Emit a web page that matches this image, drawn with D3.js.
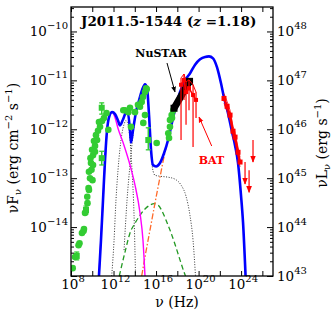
<!DOCTYPE html>
<html>
<head>
<meta charset="utf-8">
<script src="https://cdn.jsdelivr.net/npm/d3@7"></script>
<style>
  html, body { margin: 0; padding: 0; background: #fff; }
  svg { display: block; font-family: "DejaVu Serif", serif; }
</style>
</head>
<body>
<div id="chart"></div>
<script>
// all values are [log10 nu (Hz), log10 nuFnu (erg cm-2 s-1)]
const totalModel = [[10.63,-15.0],[10.82,-14.27],[11.01,-13.45],[11.20,-12.63],[11.39,-12.02],[11.57,-11.76],
  [11.86,-11.65],[12.14,-11.69],[12.42,-11.82],[12.61,-11.92],[12.89,-11.80],[13.17,-11.67],[13.36,-11.69],
  [13.55,-12.02],[13.64,-12.27],[13.83,-12.02],[14.11,-11.65],[14.40,-11.41],[14.68,-11.20],[14.96,-11.08],
  [15.15,-11.16],[15.34,-11.71],[15.53,-12.43],[15.71,-12.73],[16.00,-12.76],[16.37,-12.69],[16.75,-12.49],
  [17.13,-12.22],[17.50,-11.86],[17.88,-11.51],[18.25,-11.24],[18.72,-11.00],[19.19,-10.86],[19.67,-10.68],
  [20.14,-10.57],[20.61,-10.52],[20.98,-10.51],[21.36,-10.55],[21.73,-10.73],[22.11,-11.06],[22.39,-11.35],
  [22.77,-11.67],[23.15,-12.06],[23.43,-12.33],[23.71,-12.69],[23.99,-13.35],[24.18,-13.90],[24.42,-15.0]];
const syncModel = [[10.63,-15.0],[11.01,-13.45],[11.39,-12.02],[11.57,-11.76],[11.86,-11.65],[12.14,-11.76],
  [12.42,-11.98],[12.99,-12.33],[13.55,-12.73],[14.02,-13.14],[14.49,-13.71],[14.77,-14.27],[14.96,-15.0]];
const torusModel = [[11.83,-15.0],[12.05,-14.27],[12.23,-13.45],[12.42,-12.84],[12.61,-12.39],[12.80,-12.08],
  [12.99,-11.90],[13.17,-11.82],[13.36,-11.90],[13.55,-12.22],[13.74,-12.84],[13.93,-13.76],[14.07,-15.0]];
const diskModel = [[12.99,-14.47],[13.27,-13.45],[13.55,-12.73],[13.83,-12.12],[14.11,-11.67],[14.40,-11.41],
  [14.68,-11.22],[14.96,-11.12],[15.15,-11.20],[15.34,-11.71],[15.53,-12.43],[15.67,-12.80],[15.90,-12.94],
  [16.37,-12.96],[17.13,-12.98],[17.78,-13.02],[18.35,-13.14],[18.82,-13.37],[19.19,-13.76],[19.48,-14.27],[19.71,-15.0]];
const sscModel = [[12.54,-15.0],[13.08,-14.51],[13.55,-14.12],[14.02,-13.92],[14.49,-13.76],[14.96,-13.63],
  [15.43,-13.55],[15.84,-13.52],[16.19,-13.55],[16.56,-13.67],[16.94,-13.86],[17.31,-14.06],[17.78,-14.35],
  [18.25,-14.67],[18.63,-14.92],[18.77,-15.0]];
const ecModel = [[14.65,-15.0],[14.96,-14.61],[15.43,-14.06],[15.90,-13.51],[16.37,-12.98],[16.84,-12.47],
  [17.13,-12.22],[17.50,-11.90],[17.88,-11.55]];

// archival points (green)
const archivalPoints = [[8.16,-14.84],[8.38,-14.61],[8.71,-14.37],[8.80,-14.33],[9.03,-14.12],[9.18,-14.08],
  [9.22,-14.04],[9.32,-13.71],[9.55,-13.51],[9.53,-13.38],[9.65,-13.20],[9.79,-13.00],[9.69,-12.87],[9.88,-12.69],
  [9.83,-12.59],[10.07,-12.53],[9.98,-12.42],[10.26,-12.34],[10.16,-12.24],[10.45,-12.22],[10.35,-12.12],
  [10.54,-12.03],[10.73,-11.95],[10.63,-11.85],[10.92,-11.83],[11.10,-11.77],[11.34,-11.67],[11.51,-12.01],
  [10.07,-12.73],[9.93,-12.83],[10.02,-13.04],[9.69,-13.24],[10.26,-12.46],
  [12.92,-11.61],[13.08,-11.61],[13.39,-11.65],[13.55,-11.56],[13.64,-11.95],[14.02,-11.65],[14.30,-11.50],
  [14.49,-11.54],[14.65,-11.44],[14.77,-11.34],[14.96,-11.24],[15.12,-11.18],[14.96,-11.71],[14.80,-11.87],
  [15.06,-11.16],[16.06,-12.28],[17.15,-12.08],[17.31,-11.95],[17.31,-11.81],[17.47,-11.71],[17.62,-11.61],
  [17.50,-11.77],[17.22,-12.18]];
// [log nu, log flux, log low, log high]
const archivalErrors = [[8.54,-14.59,-14.67,-14.51],[9.41,-13.65,-13.73,-13.57],[10.89,-11.56,-11.69,-11.46],
  [10.89,-12.59,-12.73,-12.45],[15.27,-12.22,-12.42,-11.97]];

const nustarPoints = [[17.69,-11.57],[18.07,-11.43],[18.44,-11.29],[18.82,-11.14],[19.15,-11.02]];

// BAT: [log nu, log flux, log low, log high]
const batPoints = [[18.35,-11.09,-12.22,-10.95],[18.63,-10.99,-11.40,-10.87],[18.82,-11.24,-11.91,-11.03],
  [19.10,-11.16,-11.61,-10.99],[19.48,-11.30,-12.36,-11.09],[19.76,-11.40,-11.77,-11.24]];
const latPoints = [[22.39,-11.37],[22.68,-11.53],[22.96,-11.71],[23.24,-12.04],[23.43,-12.16],[23.71,-12.47],[23.90,-12.67]];
const latUpperLimits = [[24.37,-12.67],[24.75,-12.84],[25.12,-12.22]];

const xMajor = [8,10,12,14,16,18,20,22,24,26];
const xLabels = [8,12,16,20,24];
const yLabels = [-14,-13,-12,-11,-10];
const yRightLabels = [43,44,45,46,47,48];

const w = 333, h = 320;
const pl = 71, pr = 273, pt = 7, pb = 276;

const x = d3.scaleLog().domain([1e8, 1e27]).range([pl, pr]);
const y = d3.scaleLog().domain([1e-15, Math.pow(10, -9.5)]).range([pb, pt]);
const yR = d3.scaleLog().domain([1e43, Math.pow(10, 48.5)]).range([pb, pt]);
const px = d => x(Math.pow(10, d));
const py = d => y(Math.pow(10, d));

const svg = d3.select("#chart").append("svg").attr("width", w).attr("height", h);
svg.append("defs").append("clipPath").attr("id", "clip")
  .append("rect").attr("x", pl).attr("y", pt).attr("width", pr - pl).attr("height", pb - pt);
const defs = svg.select("defs");
[["arrBlack", "#000"], ["arrRed", "#f00"]].forEach(function(m) {
  defs.append("marker").attr("id", m[0]).attr("viewBox", "0 0 10 10").attr("refX", 9).attr("refY", 5)
    .attr("markerWidth", 6).attr("markerHeight", 6).attr("orient", "auto")
    .append("path").attr("d", "M0,1 L10,5 L0,9 z").attr("fill", m[1]);
});

const plot = svg.append("g").attr("clip-path", "url(#clip)");
const line = d3.line().x(d => px(d[0])).y(d => py(d[1])).curve(d3.curveMonotoneX);

plot.append("path").datum(torusModel).attr("d", line).attr("fill", "none").attr("stroke", "#333").attr("stroke-width", 1).attr("stroke-dasharray", "1,1.6");
plot.append("path").datum(diskModel).attr("d", line).attr("fill", "none").attr("stroke", "#333").attr("stroke-width", 1).attr("stroke-dasharray", "1,1.6");
plot.append("path").datum(sscModel).attr("d", line).attr("fill", "none").attr("stroke", "#229922").attr("stroke-width", 1.3).attr("stroke-dasharray", "5,3");
plot.append("path").datum(ecModel).attr("d", line).attr("fill", "none").attr("stroke", "#ff6a2a").attr("stroke-width", 1.3).attr("stroke-dasharray", "6,2,1.5,2");
plot.append("path").datum(syncModel).attr("d", line).attr("fill", "none").attr("stroke", "#ff00ff").attr("stroke-width", 1.4);
plot.append("path").datum(totalModel).attr("d", line).attr("fill", "none").attr("stroke", "#0000ff").attr("stroke-width", 2.6);

// green archival data
const green = "#33cc33";
plot.selectAll(".err").data(archivalErrors).enter().append("line")
  .attr("x1", d => px(d[0])).attr("x2", d => px(d[0])).attr("y1", d => py(d[2])).attr("y2", d => py(d[3]))
  .attr("stroke", green).attr("stroke-width", 1.5);
plot.selectAll(".errcap").data(archivalErrors.flatMap(d => [[d[0], d[2]], [d[0], d[3]]])).enter().append("line")
  .attr("x1", d => px(d[0]) - 2.5).attr("x2", d => px(d[0]) + 2.5).attr("y1", d => py(d[1])).attr("y2", d => py(d[1]))
  .attr("stroke", green).attr("stroke-width", 1.3);
plot.selectAll(".sq").data(archivalErrors).enter().append("rect")
  .attr("x", d => px(d[0]) - 3).attr("y", d => py(d[1]) - 3).attr("width", 6).attr("height", 6).attr("fill", green);
plot.selectAll(".pt").data(archivalPoints).enter().append("circle")
  .attr("cx", d => px(d[0])).attr("cy", d => py(d[1])).attr("r", 3.3).attr("fill", green);

// NuSTAR
plot.append("path").datum(nustarPoints).attr("d", d3.line().x(d => px(d[0])).y(d => py(d[1])))
  .attr("fill", "none").attr("stroke", "#000").attr("stroke-width", 7).attr("stroke-linecap", "butt");
plot.selectAll(".nu").data([nustarPoints[0], nustarPoints[nustarPoints.length - 1]]).enter().append("rect")
  .attr("x", d => px(d[0]) - 3.5).attr("y", d => py(d[1]) - 3.5).attr("width", 7).attr("height", 7).attr("fill", "#000");

// BAT
const red = "#ff0000";
plot.selectAll(".bat").data(batPoints).enter().append("line")
  .attr("x1", d => px(d[0])).attr("x2", d => px(d[0])).attr("y1", d => py(d[2])).attr("y2", d => py(d[3]))
  .attr("stroke", red).attr("stroke-width", 1.2);
plot.append("path").datum(batPoints).attr("d", d3.line().x(d => px(d[0])).y(d => py(d[3])))
  .attr("fill", "none").attr("stroke", red).attr("stroke-width", 1);
plot.append("path").datum(batPoints).attr("d", d3.line().x(d => px(d[0])).y(d => py(d[1])))
  .attr("fill", "none").attr("stroke", red).attr("stroke-width", 1.5);
plot.selectAll(".batm").data(batPoints).enter().append("rect")
  .attr("x", d => px(d[0]) - 2).attr("y", d => py(d[1]) - 2).attr("width", 4).attr("height", 4).attr("fill", red);

// Fermi-LAT
plot.append("path").datum(latPoints).attr("d", d3.line().x(d => px(d[0])).y(d => py(d[1] + 0.1)))
  .attr("fill", "none").attr("stroke", red).attr("stroke-width", 0.8);
plot.append("path").datum(latPoints).attr("d", d3.line().x(d => px(d[0])).y(d => py(d[1] - 0.1)))
  .attr("fill", "none").attr("stroke", red).attr("stroke-width", 0.8);
plot.append("path").datum(latPoints).attr("d", d3.line().x(d => px(d[0])).y(d => py(d[1])))
  .attr("fill", "none").attr("stroke", red).attr("stroke-width", 2.2);
plot.selectAll(".lat").data(latPoints).enter().append("rect")
  .attr("x", d => px(d[0]) - 2.5).attr("y", d => py(d[1]) - 2.5).attr("width", 5).attr("height", 5).attr("fill", red);
plot.selectAll(".ul").data(latUpperLimits).enter().append("line")
  .attr("x1", d => px(d[0])).attr("x2", d => px(d[0])).attr("y1", d => py(d[1])).attr("y2", d => py(d[1] - 0.45))
  .attr("stroke", red).attr("stroke-width", 1.2).attr("marker-end", "url(#arrRed)");

// frame and axes
svg.append("rect").attr("x", pl).attr("y", pt).attr("width", pr - pl).attr("height", pb - pt)
  .attr("fill", "none").attr("stroke", "#000").attr("stroke-width", 1.3);

function minors(lo, hi) {
  const out = [];
  for (let k = lo; k <= hi; k++) for (let m = 2; m <= 9; m++) out.push(m * Math.pow(10, k));
  return out;
}
const tickStyle = g => { g.select(".domain").remove(); g.selectAll("line").attr("stroke", "#000").attr("stroke-width", 1); };

svg.append("g").attr("transform", "translate(0," + pb + ")")
  .call(d3.axisBottom(x).tickValues(xMajor.map(v => Math.pow(10, v))).tickSize(-5).tickFormat("")).call(tickStyle);
svg.append("g").attr("transform", "translate(0," + pt + ")")
  .call(d3.axisTop(x).tickValues(xMajor.map(v => Math.pow(10, v))).tickSize(-5).tickFormat("")).call(tickStyle);
svg.append("g").attr("transform", "translate(" + pl + ",0)")
  .call(d3.axisLeft(y).tickValues(d3.range(-15, -9).map(v => Math.pow(10, v))).tickSize(-6).tickFormat("")).call(tickStyle);
svg.append("g").attr("transform", "translate(" + pl + ",0)")
  .call(d3.axisLeft(y).tickValues(minors(-15, -10).filter(v => v < Math.pow(10, -9.5))).tickSize(-3).tickFormat("")).call(tickStyle);
svg.append("g").attr("transform", "translate(" + pr + ",0)")
  .call(d3.axisRight(yR).tickValues(d3.range(43, 49).map(v => Math.pow(10, v))).tickSize(-6).tickFormat("")).call(tickStyle);
svg.append("g").attr("transform", "translate(" + pr + ",0)")
  .call(d3.axisRight(yR).tickValues(minors(43, 48).filter(v => v < Math.pow(10, 48.5))).tickSize(-3).tickFormat("")).call(tickStyle);

function powLabel(sel, exp) {
  sel.append("tspan").text("10");
  sel.append("tspan").attr("dy", -7).attr("font-size", 10).text(String(exp).replace("-", "\u2212"));
}
xLabels.forEach(function(e) {
  svg.append("text").attr("x", px(e) + 2).attr("y", 289).attr("text-anchor", "middle").attr("font-size", 13.5)
    .call(powLabel, e);
});
yLabels.forEach(function(e) {
  svg.append("text").attr("x", 68).attr("y", py(e) + 5).attr("text-anchor", "end").attr("font-size", 13.5)
    .call(powLabel, e);
});
yRightLabels.forEach(function(e) {
  svg.append("text").attr("x", 277).attr("y", yR(Math.pow(10, e)) + 5).attr("font-size", 13.5)
    .call(powLabel, e);
});

// axis titles
const yl = svg.append("text").attr("transform", "translate(18,148) rotate(-90)").attr("text-anchor", "middle").attr("font-size", 14);
yl.append("tspan").text("\u03bdF");
yl.append("tspan").attr("dy", 3).attr("font-size", 10).text("\u03bd");
yl.append("tspan").attr("dy", -3).text(" (erg cm");
yl.append("tspan").attr("dy", -6).attr("font-size", 10).text("\u22122");
yl.append("tspan").attr("dy", 6).text(" s");
yl.append("tspan").attr("dy", -6).attr("font-size", 10).text("\u22121");
yl.append("tspan").attr("dy", 6).text(")");

const yr = svg.append("text").attr("transform", "translate(327,143) rotate(-90)").attr("text-anchor", "middle").attr("font-size", 14);
yr.append("tspan").text("\u03bdL");
yr.append("tspan").attr("dy", 3).attr("font-size", 10).text("\u03bd");
yr.append("tspan").attr("dy", -3).text(" (erg s");
yr.append("tspan").attr("dy", -6).attr("font-size", 10).text("\u22121");
yr.append("tspan").attr("dy", 6).text(")");

svg.append("text").attr("x", 177).attr("y", 307).attr("text-anchor", "middle").attr("font-size", 14).text("\u03bd (Hz)");

// title
const title = svg.append("text").attr("x", 81).attr("y", 25.5).attr("font-size", 13.5).attr("font-weight", "bold");
title.append("tspan").text("J2011.5-1544 (");
title.append("tspan").attr("font-style", "italic").text("z");
title.append("tspan").text(" =1.18)");

// annotations
svg.append("text").attr("x", 161).attr("y", 57).attr("text-anchor", "middle").attr("font-size", 11).attr("font-weight", "bold").text("NuSTAR");
svg.append("line").attr("x1", 167).attr("y1", 63).attr("x2", 175).attr("y2", 92)
  .attr("stroke", "#000").attr("stroke-width", 1).attr("marker-end", "url(#arrBlack)");
svg.append("text").attr("x", 211.5).attr("y", 164).attr("text-anchor", "middle").attr("font-size", 11).attr("font-weight", "bold").attr("fill", red).text("BAT");
svg.append("line").attr("x1", 211.7).attr("y1", 146).attr("x2", 199).attr("y2", 117)
  .attr("stroke", red).attr("stroke-width", 1).attr("marker-end", "url(#arrRed)");
</script>
</body>
</html>
